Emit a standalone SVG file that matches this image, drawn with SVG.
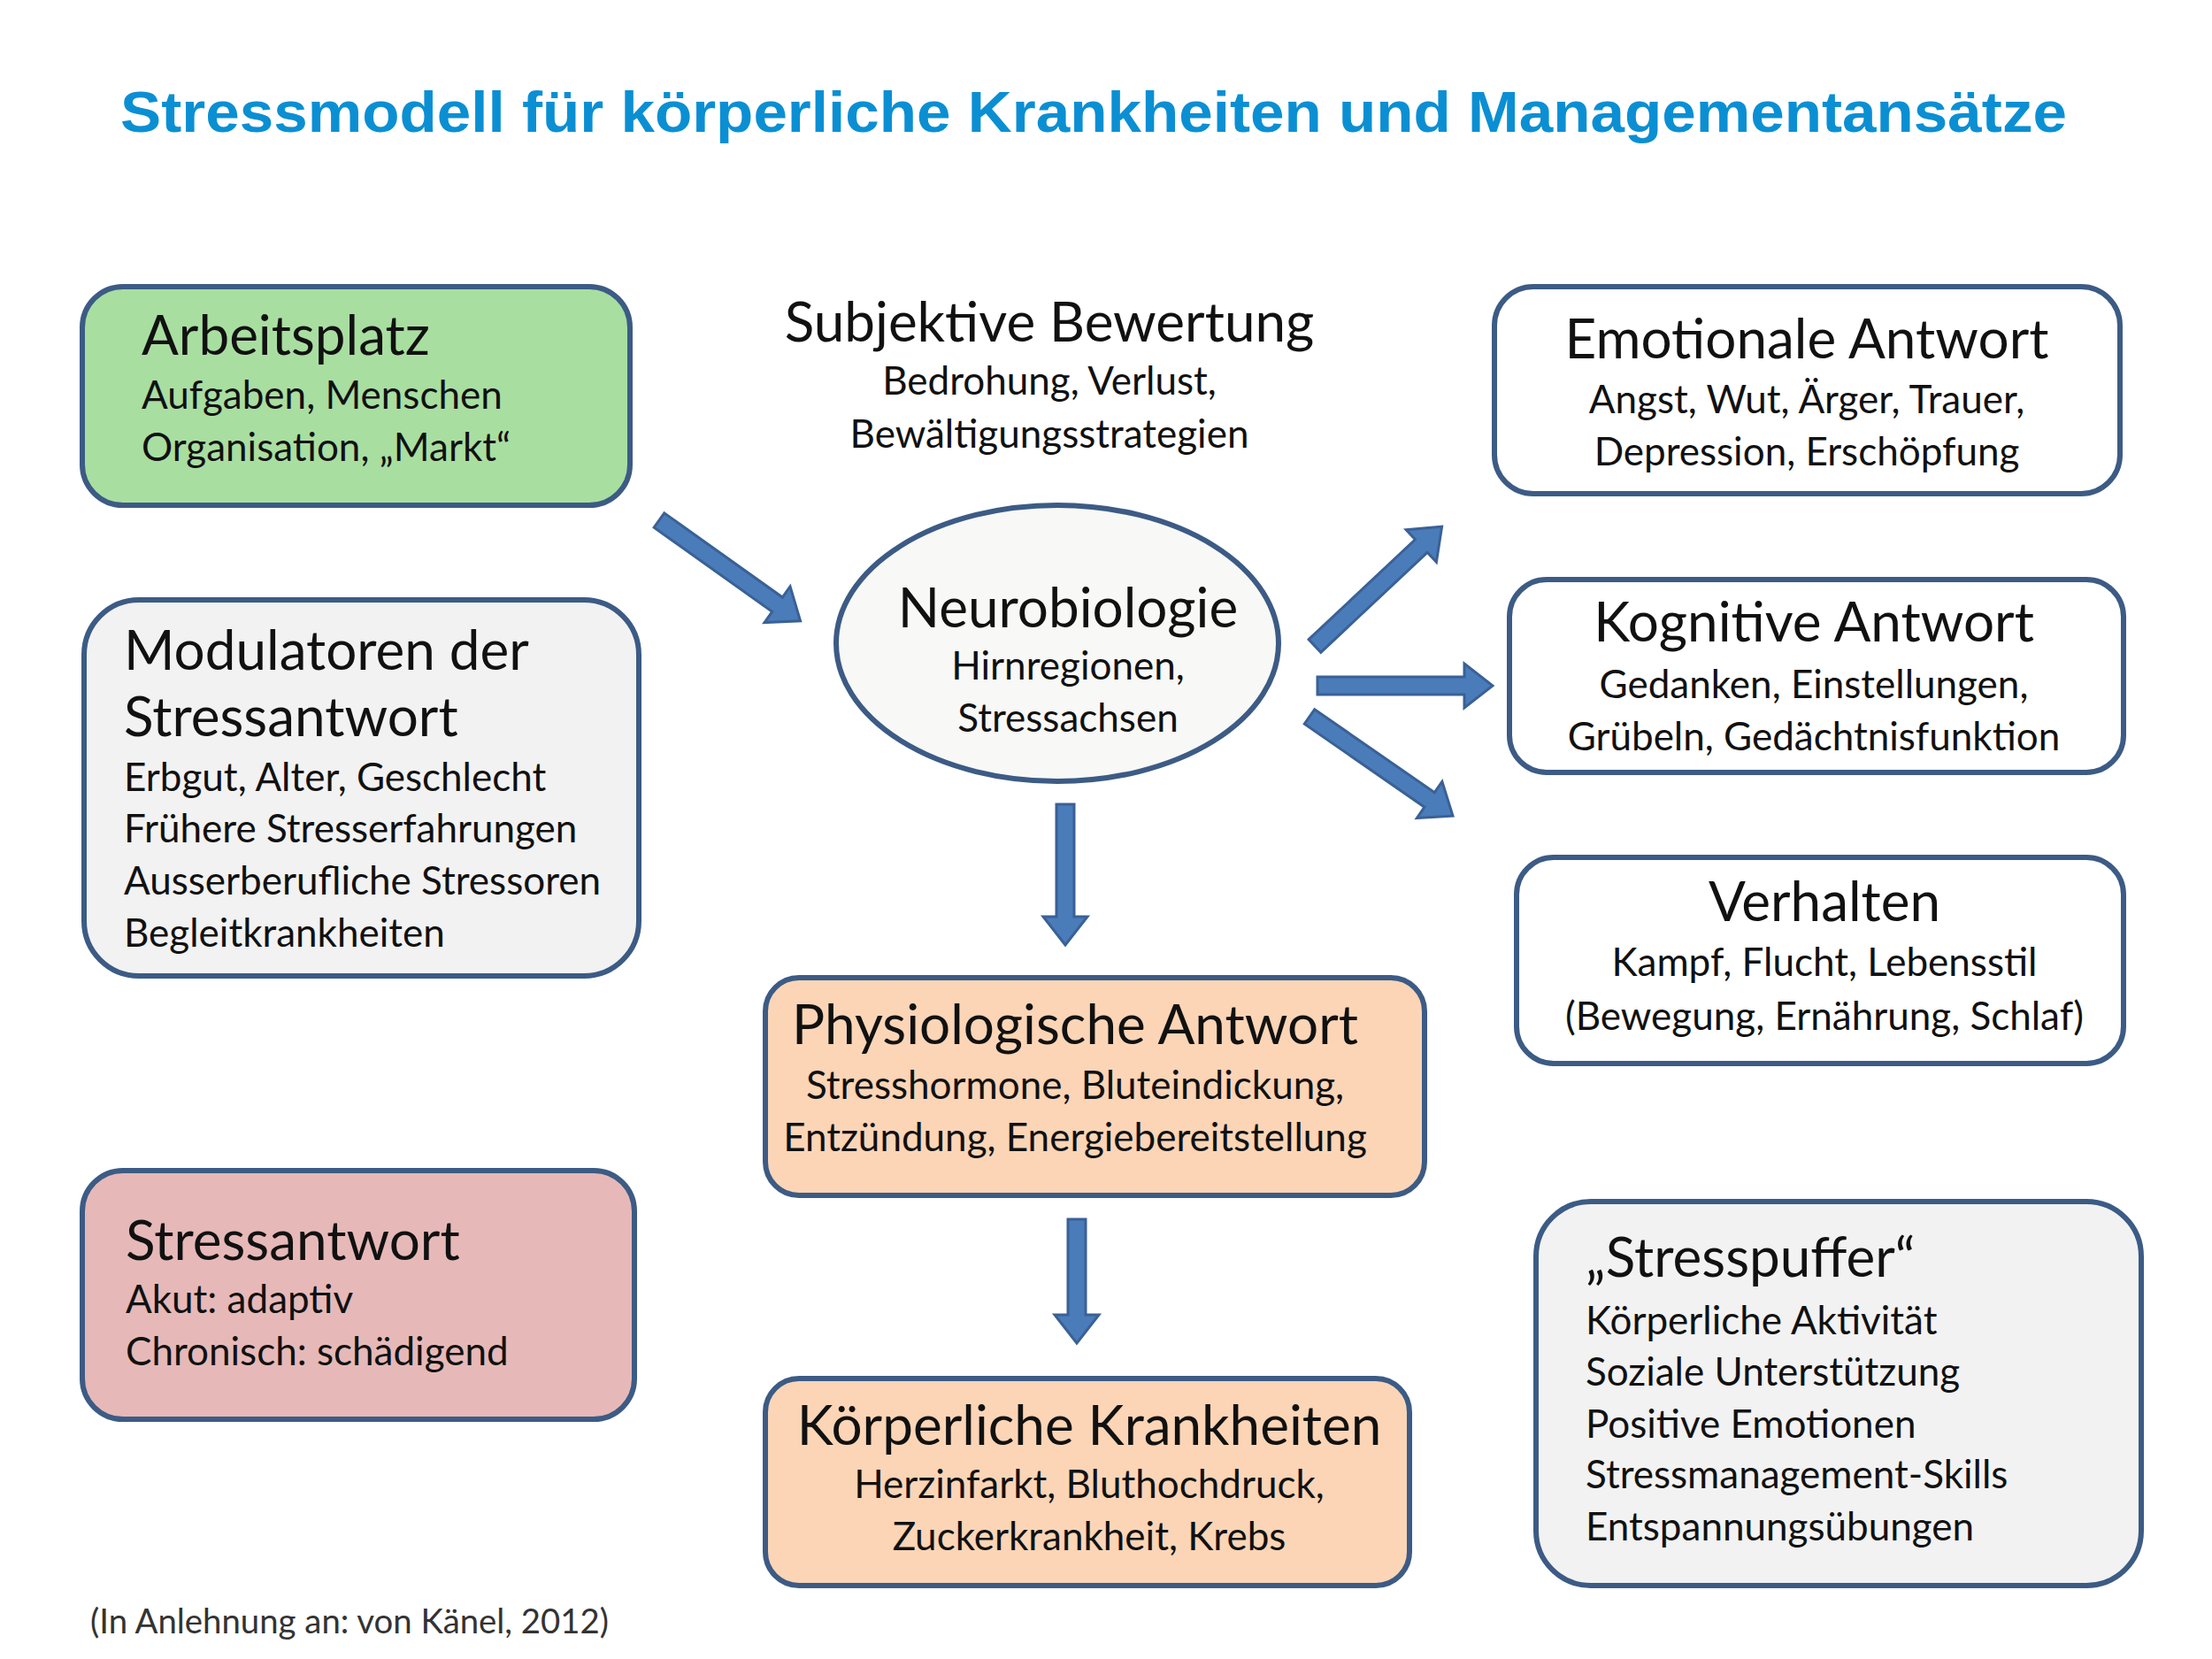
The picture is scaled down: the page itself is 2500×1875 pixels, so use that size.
<svg xmlns="http://www.w3.org/2000/svg" width="2500" height="1875" viewBox="0 0 2500 1875">
<style>
.box{stroke:#3c5b85;stroke-width:6}
.h{font-family:Lato,"Open Sans",sans-serif;font-size:62px;fill:#111}
.s{font-family:Lato,"Open Sans",sans-serif;font-size:44px;fill:#111}
.c{text-anchor:middle}
.arr{fill:#4a7cba;stroke:#3a6196;stroke-width:3}
.title{font-family:"Liberation Sans",Arial,sans-serif;font-weight:bold;font-size:64px;fill:#0b8fd3}
</style>
<rect width="2500" height="1875" fill="#ffffff"/>
<text class="title" x="1236" y="149" text-anchor="middle" textLength="2200" lengthAdjust="spacingAndGlyphs">Stressmodell für körperliche Krankheiten und Managementansätze</text>

<g id="arbeitsplatz">
<rect class="box" x="93" y="324" width="619" height="247" rx="46" fill="#a9dea1"/>
<text class="h" x="160" y="401">Arbeitsplatz</text>
<text class="s" x="160" y="462">Aufgaben, Menschen</text>
<text class="s" x="160" y="521">Organisation, „Markt“</text>
</g>

<g id="bewertung">
<text class="h c" x="1186" y="386">Subjektive Bewertung</text>
<text class="s c" x="1186" y="446">Bedrohung, Verlust,</text>
<text class="s c" x="1186" y="506">Bewältigungsstrategien</text>
</g>

<g id="neurobiologie">
<ellipse class="box" cx="1195" cy="727" rx="250" ry="156" fill="#f8f8f6"/>
<text class="h c" x="1207" y="709">Neurobiologie</text>
<text class="s c" x="1207" y="768">Hirnregionen,</text>
<text class="s c" x="1207" y="827">Stressachsen</text>
</g>

<g id="emotionale">
<rect class="box" x="1689" y="324" width="707" height="234" rx="44" fill="#ffffff"/>
<text class="h c" x="2042" y="405">Emotionale Antwort</text>
<text class="s c" x="2042" y="467">Angst, Wut, Ärger, Trauer,</text>
<text class="s c" x="2042" y="526">Depression, Erschöpfung</text>
</g>

<g id="kognitive">
<rect class="box" x="1706" y="655" width="694" height="218" rx="42" fill="#ffffff"/>
<text class="h c" x="2050" y="725">Kognitive Antwort</text>
<text class="s c" x="2050" y="789">Gedanken, Einstellungen,</text>
<text class="s c" x="2050" y="848">Grübeln, Gedächtnisfunktion</text>
</g>

<g id="verhalten">
<rect class="box" x="1714" y="969" width="686" height="233" rx="42" fill="#ffffff"/>
<text class="h c" x="2062" y="1041">Verhalten</text>
<text class="s c" x="2062" y="1103">Kampf, Flucht, Lebensstil</text>
<text class="s c" x="2062" y="1164">(Bewegung, Ernährung, Schlaf)</text>
</g>

<g id="modulatoren">
<rect class="box" x="95" y="678" width="627" height="425" rx="62" fill="#f2f2f2"/>
<text class="h" x="140" y="757">Modulatoren der</text>
<text class="h" x="140" y="832">Stressantwort</text>
<text class="s" x="140" y="894">Erbgut, Alter, Geschlecht</text>
<text class="s" x="140" y="952">Frühere Stresserfahrungen</text>
<text class="s" x="140" y="1011">Ausserberufliche Stressoren</text>
<text class="s" x="140" y="1070">Begleitkrankheiten</text>
</g>

<g id="physiologische">
<rect class="box" x="865" y="1105" width="745" height="246" rx="38" fill="#fbd5b6"/>
<text class="h c" x="1215" y="1180">Physiologische Antwort</text>
<text class="s c" x="1215" y="1242">Stresshormone, Bluteindickung,</text>
<text class="s c" x="1215" y="1301">Entzündung, Energiebereitstellung</text>
</g>

<g id="stressantwort">
<rect class="box" x="93" y="1323" width="624" height="281" rx="46" fill="#e6b9b8"/>
<text class="h" x="142" y="1424">Stressantwort</text>
<text class="s" x="142" y="1484">Akut: adaptiv</text>
<text class="s" x="142" y="1543">Chronisch: schädigend</text>
</g>

<g id="krankheiten">
<rect class="box" x="865" y="1558" width="728" height="234" rx="38" fill="#fbd5b6"/>
<text class="h c" x="1231" y="1633">Körperliche Krankheiten</text>
<text class="s c" x="1231" y="1693">Herzinfarkt, Bluthochdruck,</text>
<text class="s c" x="1231" y="1752">Zuckerkrankheit, Krebs</text>
</g>

<g id="stresspuffer">
<rect class="box" x="1736" y="1358" width="684" height="434" rx="62" fill="#f2f2f2"/>
<text class="h" x="1792" y="1443">„Stresspuffer“</text>
<text class="s" x="1792" y="1508">Körperliche Aktivität</text>
<text class="s" x="1792" y="1566">Soziale Unterstützung</text>
<text class="s" x="1792" y="1625">Positive Emotionen</text>
<text class="s" x="1792" y="1682">Stressmanagement-Skills</text>
<text class="s" x="1792" y="1741">Entspannungsübungen</text>
</g>

<g id="connectors">
<path class="arr" transform="translate(745,588) rotate(35.5)" d="M0,-10 L164,-10 L164,-25 L196,0 L164,25 L164,10 L0,10 Z"/>
<path class="arr" transform="translate(1486,730) rotate(-43.2)" d="M0,-10 L165,-10 L165,-25 L197,0 L165,25 L165,10 L0,10 Z"/>
<path class="arr" transform="translate(1489,775)" d="M0,-10 L166,-10 L166,-25 L198,0 L166,25 L166,10 L0,10 Z"/>
<path class="arr" transform="translate(1480,810) rotate(34.7)" d="M0,-10 L165,-10 L165,-25 L197,0 L165,25 L165,10 L0,10 Z"/>
<path class="arr" transform="translate(1204,909) rotate(90)" d="M0,-10 L127,-10 L127,-25 L159,0 L127,25 L127,10 L0,10 Z"/>
<path class="arr" transform="translate(1217,1378) rotate(90)" d="M0,-10 L108,-10 L108,-25 L140,0 L108,25 L108,10 L0,10 Z"/>
</g>

<text x="102" y="1846" textLength="586" lengthAdjust="spacingAndGlyphs" style="font-family:Lato,'Open Sans',sans-serif;font-size:38px;fill:#333">(In Anlehnung an: von Känel, 2012)</text>
</svg>
